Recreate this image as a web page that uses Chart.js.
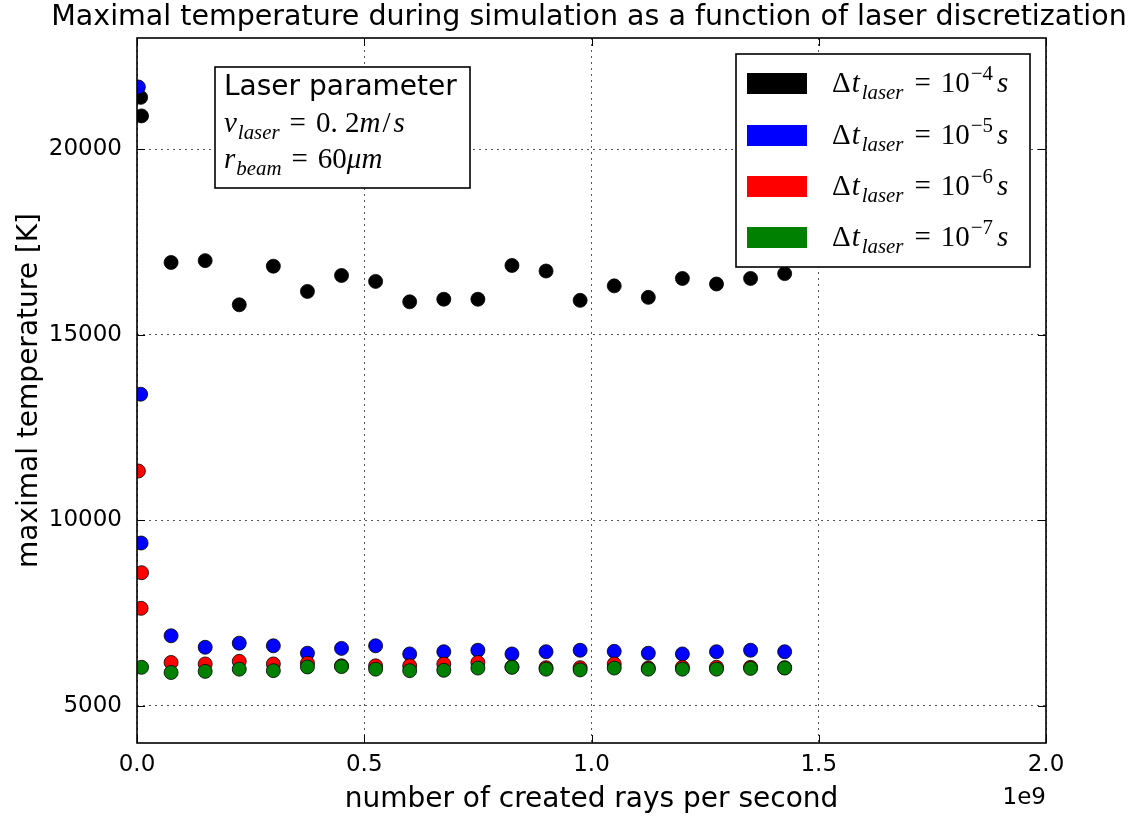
<!DOCTYPE html>
<html>
<head>
<meta charset="utf-8">
<script src="https://cdn.jsdelivr.net/npm/chart.js@4.4.1/dist/chart.umd.min.js"></script>
<style>
  html, body { margin: 0; padding: 0; background: #fff; }
</style>
</head>
<body>
<canvas id="temp-chart" width="1147" height="820"></canvas>
<script>
// rays per second for the main sweep
const rays = [7.5e7, 1.5e8, 2.25e8, 3e8, 3.75e8, 4.5e8, 5.25e8, 6e8, 6.75e8, 7.5e8,
  8.25e8, 9e8, 9.75e8, 1.05e9, 1.125e9, 1.2e9, 1.275e9, 1.35e9, 1.425e9];

// max temperature [K] for each laser time step
const tempE4 = [16950, 17000, 15810, 16850, 16170, 16600, 16440, 15890, 15960, 15960,
  16870, 16720, 15930, 16320, 16010, 16520, 16370, 16520, 16650];
const tempE5 = [6890, 6580, 6690, 6620, 6420, 6550, 6620, 6400, 6460, 6500,
  6400, 6460, 6500, 6470, 6420, 6400, 6460, 6500, 6460];
const tempE6 = [6170, 6130, 6200, 6130, 6150, 6080, 6080, 6080, 6130, 6170,
  6050, 6030, 6030, 6130, 6020, 6040, 6040, 6040, 6030];
const tempE7 = [5900, 5930, 5990, 5950, 6050, 6060, 5990, 5950, 5960, 6020,
  6040, 5990, 5970, 6020, 5990, 5990, 5990, 6010, 6020];

// the very low ray counts, squeezed against the y axis
const startRaysE4 = [8e6, 1e7];
const startTempE4 = [21400, 20900];
const startRaysE5 = [3e6, 8e6, 9e6];
const startTempE5 = [21680, 13400, 9390];
const startRaysE6 = [3e6, 1e7, 9e6];
const startTempE6 = [11330, 8590, 7630];
const startRaysE7 = [1e7];
const startTempE7 = [6040];

const seriesExp = ['4', '5', '6', '7'];
const seriesColors = ['#000000', '#0000ff', '#ff0000', '#008000'];

const xTicks = [0, 0.5e9, 1e9, 1.5e9, 2e9];
const yTicks = [5000, 10000, 15000, 20000];

function points(xs, ys) {
  return xs.map((x, i) => ({ x: x, y: ys[i] }));
}

const allX = [startRaysE4.concat(rays), startRaysE5.concat(rays), startRaysE6.concat(rays), startRaysE7.concat(rays)];
const allY = [startTempE4.concat(tempE4), startTempE5.concat(tempE5), startTempE6.concat(tempE6), startTempE7.concat(tempE7)];

const datasets = seriesExp.map((e, i) => ({
  label: 'dt = 1e-' + e + ' s',
  data: points(allX[i], allY[i]),
  backgroundColor: seriesColors[i],
  borderColor: '#000',
  borderWidth: 0.8,
  pointRadius: 7,
  pointHoverRadius: 7,
  order: 4 - i,   // green ends up on top
  clip: 0
}));

// little mathtext-ish writer: [text, italic, level, gapBefore]
function drawMath(ctx, x, y, parts, size) {
  parts.forEach(p => {
    const s = p[2] ? size * 0.72 : size;
    const dy = p[2] < 0 ? size * 0.24 : (p[2] > 0 ? -size * 0.42 : 0);
    x += p[3] || 0;
    ctx.font = (p[1] ? 'italic ' : '') + s + 'px "Liberation Serif"';
    ctx.fillText(p[0], x, y + dy);
    x += ctx.measureText(p[0]).width;
  });
}

const decorations = {
  id: 'decorations',
  afterDraw(chart) {
    const ctx = chart.ctx;
    const a = chart.chartArea;
    const xs = chart.scales.x, ys = chart.scales.y;
    ctx.save();
    ctx.fillStyle = '#000';
    ctx.strokeStyle = '#000';

    // inner ticks
    ctx.lineWidth = 1;
    ctx.beginPath();
    yTicks.forEach(v => {
      const py = Math.round(ys.getPixelForValue(v)) + 0.5;
      ctx.moveTo(a.left, py); ctx.lineTo(a.left + 8, py);
      ctx.moveTo(a.right, py); ctx.lineTo(a.right - 8, py);
    });
    xTicks.forEach(v => {
      const px = Math.round(xs.getPixelForValue(v)) + 0.5;
      ctx.moveTo(px, a.bottom); ctx.lineTo(px, a.bottom - 8);
      ctx.moveTo(px, a.top); ctx.lineTo(px, a.top + 8);
    });
    ctx.stroke();

    // frame
    ctx.lineWidth = 1.6;
    ctx.strokeRect(a.left, a.top, a.right - a.left, a.bottom - a.top);

    // title
    ctx.textAlign = 'center';
    ctx.textBaseline = 'middle';
    ctx.font = '28.5px "DejaVu Sans"';
    ctx.fillText('Maximal temperature during simulation as a function of laser discretization', 589, 18);

    // offset text
    ctx.textAlign = 'right';
    ctx.textBaseline = 'alphabetic';
    ctx.font = '23px "DejaVu Sans"';
    ctx.fillText('1e9', 1046, 804);

    // laser parameter box
    ctx.textAlign = 'left';
    ctx.fillStyle = '#fff';
    ctx.fillRect(215, 67, 255, 121);
    ctx.lineWidth = 1.6;
    ctx.strokeRect(215, 67, 255, 121);
    ctx.fillStyle = '#000';
    ctx.font = '28px "DejaVu Sans"';
    ctx.fillText('Laser parameter', 224, 95);
    drawMath(ctx, 224, 132, [['v', 1, 0], ['laser', 1, -1, 1], ['=', 0, 0, 10], ['0. 2', 0, 0, 10], ['m', 1, 0], ['/', 0, 0, 2], ['s', 1, 0, 3]], 29);
    drawMath(ctx, 224, 168, [['r', 1, 0], ['beam', 1, -1, 1], ['=', 0, 0, 10], ['60', 0, 0, 10], ['\u03bc', 1, 0], ['m', 1, 0]], 29);

    // legend
    ctx.fillStyle = '#fff';
    ctx.fillRect(736, 54, 294, 213);
    ctx.strokeRect(736, 54, 294, 213);
    const rowY = [83, 135, 186, 237];
    seriesExp.forEach((e, i) => {
      ctx.fillStyle = seriesColors[i];
      ctx.fillRect(747, rowY[i] - 10, 60, 21);
      ctx.fillStyle = '#000';
      drawMath(ctx, 832, rowY[i] + 9, [['\u0394', 0, 0], ['t', 1, 0, 1], ['laser', 1, -1, 2], ['=', 0, 0, 11], ['10', 0, 0, 10], ['\u2212' + e, 0, 1, 1], ['s', 1, 0, 4]], 29);
    });
    ctx.restore();
  }
};

new Chart('temp-chart', {
  type: 'scatter',
  data: { datasets: datasets },
  options: {
    responsive: false,
    animation: false,
    devicePixelRatio: 1,
    layout: { padding: { top: 38, right: 101, left: 0, bottom: 0 } },
    plugins: {
      legend: { display: false },
      tooltip: { enabled: false }
    },
    scales: {
      x: {
        type: 'linear',
        min: 0,
        max: 2e9,
        afterFit: s => { s.height = 77; },
        afterBuildTicks: s => { s.ticks = xTicks.map(v => ({ value: v })); },
        grid: { color: '#555', lineWidth: 1, drawTicks: false },
        border: { display: false, dash: [2, 4] },
        ticks: {
          color: '#000',
          padding: 8,
          font: { family: 'DejaVu Sans', size: 23 },
          maxRotation: 0,
          callback: v => (v / 1e9).toFixed(1)
        },
        title: {
          display: true,
          text: 'number of created rays per second',
          color: '#000',
          font: { family: 'DejaVu Sans', size: 28 },
          padding: { top: 0, bottom: 3 }
        }
      },
      y: {
        min: 4000,
        max: 23000,
        afterFit: s => { s.width = 137; },
        afterBuildTicks: s => { s.ticks = yTicks.map(v => ({ value: v })); },
        grid: { color: '#555', lineWidth: 1, drawTicks: false },
        border: { display: false, dash: [2, 4] },
        ticks: {
          color: '#000',
          padding: 15,
          font: { family: 'DejaVu Sans', size: 23 },
          callback: v => String(v)
        },
        title: {
          display: true,
          text: 'maximal temperature [K]',
          color: '#000',
          font: { family: 'DejaVu Sans', size: 28 },
          padding: { top: 13, bottom: 0 }
        }
      }
    }
  },
  plugins: [decorations]
});
</script>
</body>
</html>
